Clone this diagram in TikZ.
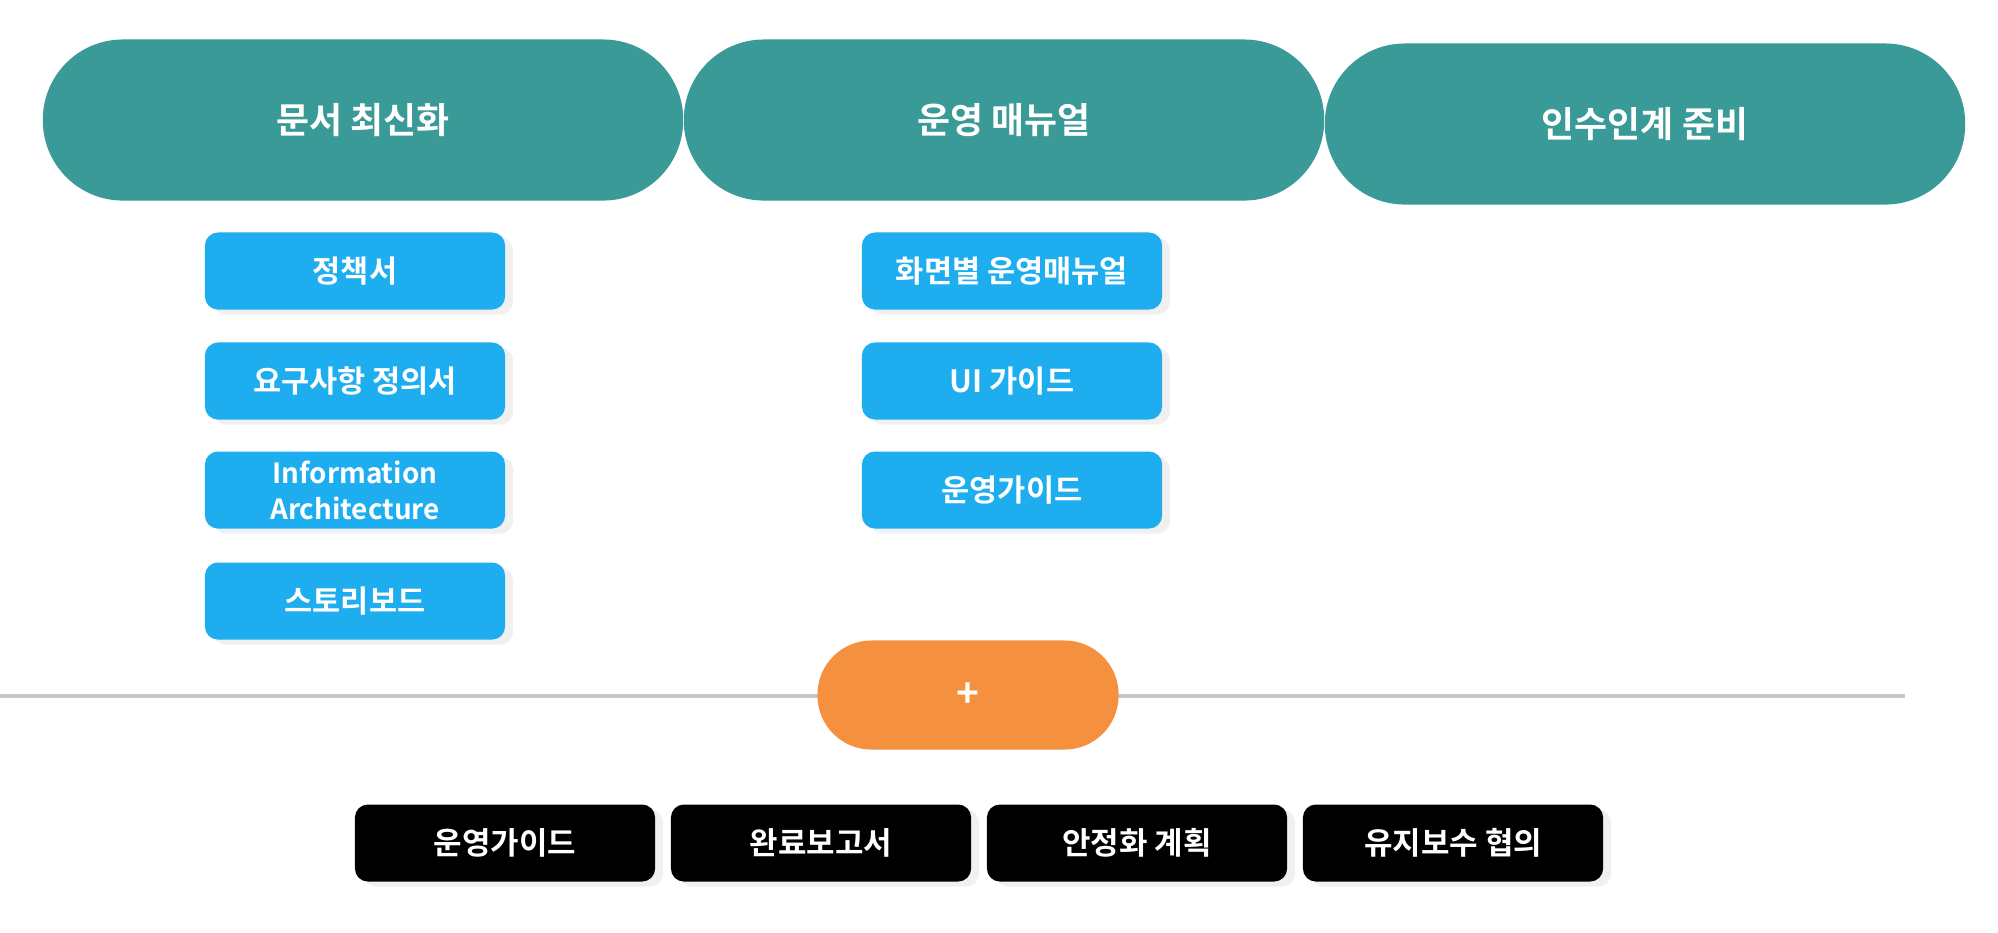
\documentclass[tikz,border=0pt]{standalone}
\usepackage{fontspec}
\setmainfont{Noto Sans CJK KR}[BoldFont={Noto Sans CJK KR Bold}]
\usetikzlibrary{shadows}

\definecolor{tealpill}{HTML}{3A9A98}
\definecolor{skybox}{HTML}{1EAEF0}
\definecolor{orangepill}{HTML}{F5913E}
\definecolor{rulegray}{HTML}{C8C8C8}

\tikzset{
  phase/.style={fill=tealpill, text=white, font=\bfseries\fontsize{10.2}{12}\selectfont,
    minimum width=6.4cm, minimum height=1.61cm, rounded corners=0.8cm, inner sep=0pt},
  doc/.style={fill=skybox, text=white, font=\bfseries\fontsize{8.7}{10.5}\selectfont,
    minimum width=3.0cm, minimum height=0.77cm, rounded corners=0.13cm, inner sep=0pt,
    align=center, drop shadow={shadow xshift=0.08cm, shadow yshift=-0.05cm, opacity=0.12}},
  extra/.style={fill=black, text=white, font=\bfseries\fontsize{8.8}{11}\selectfont,
    minimum width=3.0cm, minimum height=0.77cm, rounded corners=0.13cm, inner sep=0pt,
    drop shadow={shadow xshift=0.08cm, shadow yshift=-0.05cm, opacity=0.12}},
  plusbtn/.style={fill=orangepill, text=white, font=\bfseries\fontsize{11}{13}\selectfont,
    minimum width=3.01cm, minimum height=1.09cm, rounded corners=0.54cm, inner sep=0pt}
}

\begin{document}
\begin{tikzpicture}[x=0.01cm, y=-0.01cm]
        \useasboundingbox (0,0) rectangle (1998,932);

        % Phases
        \node[phase] (update) at (363, 120) {문서 최신화};
        \node[phase] (manual) at (1004, 120) {운영 매뉴얼};
        \node[phase] (handover) at (1645, 124) {인수인계 준비};

        % Documents
        \node[doc] (policy) at (355, 271) {정책서};
        \node[doc] (reqdef) at (355, 381) {요구사항 정의서};
        \node[doc, font=\bfseries\fontsize{7.9}{10.2}\selectfont] (ia) at (355, 490) {Information\\Architecture};
        \node[doc] (story) at (355, 601) {스토리보드};

        \node[doc] (screen) at (1012, 271) {화면별 운영매뉴얼};
        \node[doc] (uiguide) at (1012, 381) {UI 가이드};
        \node[doc] (opguide) at (1012, 490) {운영가이드};

        % Divider
        \coordinate (lineL) at (0, 696);
        \coordinate (lineR) at (1905, 696);
        \draw[rulegray, line width=1pt] (lineL) -- (lineR);
        \node[plusbtn] (plus) at (968, 695) {+};

        % Extras
        \node[extra] (guide) at (505, 843) {운영가이드};
        \node[extra] (report) at (821, 843) {완료보고서};
        \node[extra] (stable) at (1137, 843) {안정화 계획};
        \node[extra] (maint) at (1453, 843) {유지보수 협의};
    \end{tikzpicture}
\end{document}
